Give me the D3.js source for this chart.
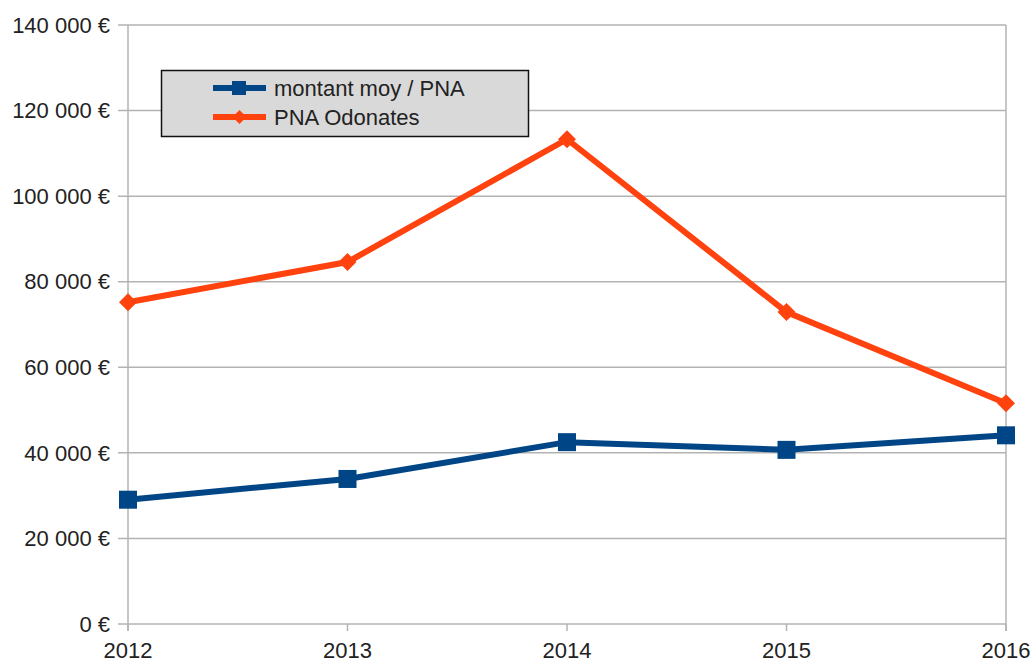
<!DOCTYPE html>
<html><head><meta charset="utf-8">
<script src="https://cdn.jsdelivr.net/npm/d3@7"></script>
<style>body{margin:0;background:#fff}svg{display:block}text{font-family:"Liberation Sans",Arial,sans-serif}</style>
</head><body>
<script>
const categories = ["2012","2013","2014","2015","2016"];
const seriesNames = ["montant moy / PNA","PNA Odonates"];
const montantMoy = [29050, 33900, 42500, 40700, 44100];
const pnaOdonates = [75200, 84600, 113300, 72900, 51600];
const yTicks = [0,20000,40000,60000,80000,100000,120000,140000];
const colors = ["#004586","#ff420e"];

const W=1033,H=661;
const svg=d3.select("body").append("svg").attr("width",W).attr("height",H);
const x=d3.scalePoint().domain(categories).range([128,1006]);
const y=d3.scaleLinear().domain([0,140000]).range([624,25]);
const fmt=v=>d3.format(",")(v).replace(/,/g," ")+" €";
const FS=22;

svg.append("g").selectAll("line").data(yTicks).join("line")
  .attr("x1",118).attr("x2",1006).attr("y1",d=>y(d)).attr("y2",d=>y(d))
  .attr("stroke","#b3b3b3").attr("stroke-width",1.5);
svg.append("line").attr("x1",128).attr("x2",128).attr("y1",25).attr("y2",631).attr("stroke","#b3b3b3").attr("stroke-width",1.5);
svg.append("line").attr("x1",1006).attr("x2",1006).attr("y1",25).attr("y2",631).attr("stroke","#b3b3b3").attr("stroke-width",1.5);
svg.append("g").selectAll("line").data(categories).join("line")
  .attr("x1",d=>x(d)).attr("x2",d=>x(d)).attr("y1",624).attr("y2",631)
  .attr("stroke","#b3b3b3").attr("stroke-width",1.5);
svg.append("g").selectAll("text").data(yTicks).join("text")
  .attr("x",110).attr("y",d=>y(d)).attr("dy","0.35em").attr("text-anchor","end")
  .attr("font-size",FS).attr("fill","#222").text(fmt);
svg.append("g").selectAll("text").data(categories).join("text")
  .attr("x",d=>x(d)).attr("y",658).attr("text-anchor","middle")
  .attr("font-size",FS).attr("fill","#222").text(d=>d);

const line=d3.line().x((d,i)=>x(categories[i])).y(d=>y(d));
[montantMoy,pnaOdonates].forEach((s,k)=>{
  svg.append("path").datum(s).attr("d",line).attr("fill","none")
    .attr("stroke",colors[k]).attr("stroke-width",6).attr("stroke-linejoin","miter");
});
svg.append("g").selectAll("rect").data(montantMoy).join("rect")
  .attr("x",(d,i)=>x(categories[i])-9).attr("y",d=>y(d)-9).attr("width",18).attr("height",18)
  .attr("fill",colors[0]);
const dia=(r)=>`M0,${-r}L${r},0L0,${r}L${-r},0Z`;
svg.append("g").selectAll("path").data(pnaOdonates).join("path")
  .attr("transform",(d,i)=>`translate(${x(categories[i])},${y(d)})`)
  .attr("d",dia(9)).attr("fill",colors[1]);

const lg=svg.append("g");
lg.append("rect").attr("x",161.5).attr("y",70.5).attr("width",367).attr("height",66)
  .attr("fill","#d9d9d9").attr("stroke","#111").attr("stroke-width",1.5);
seriesNames.forEach((n,k)=>{
  const ly=88+k*29;
  lg.append("line").attr("x1",213).attr("x2",266).attr("y1",ly).attr("y2",ly)
    .attr("stroke",colors[k]).attr("stroke-width",6);
  if(k===0) lg.append("rect").attr("x",232).attr("y",ly-7).attr("width",14).attr("height",14).attr("fill",colors[k]);
  else lg.append("path").attr("transform",`translate(239.5,${ly})`).attr("d",dia(7)).attr("fill",colors[k]);
  lg.append("text").attr("x",274).attr("y",ly).attr("dy","0.35em").attr("font-size",FS).attr("fill","#222").text(n);
});
</script>
</body></html>
